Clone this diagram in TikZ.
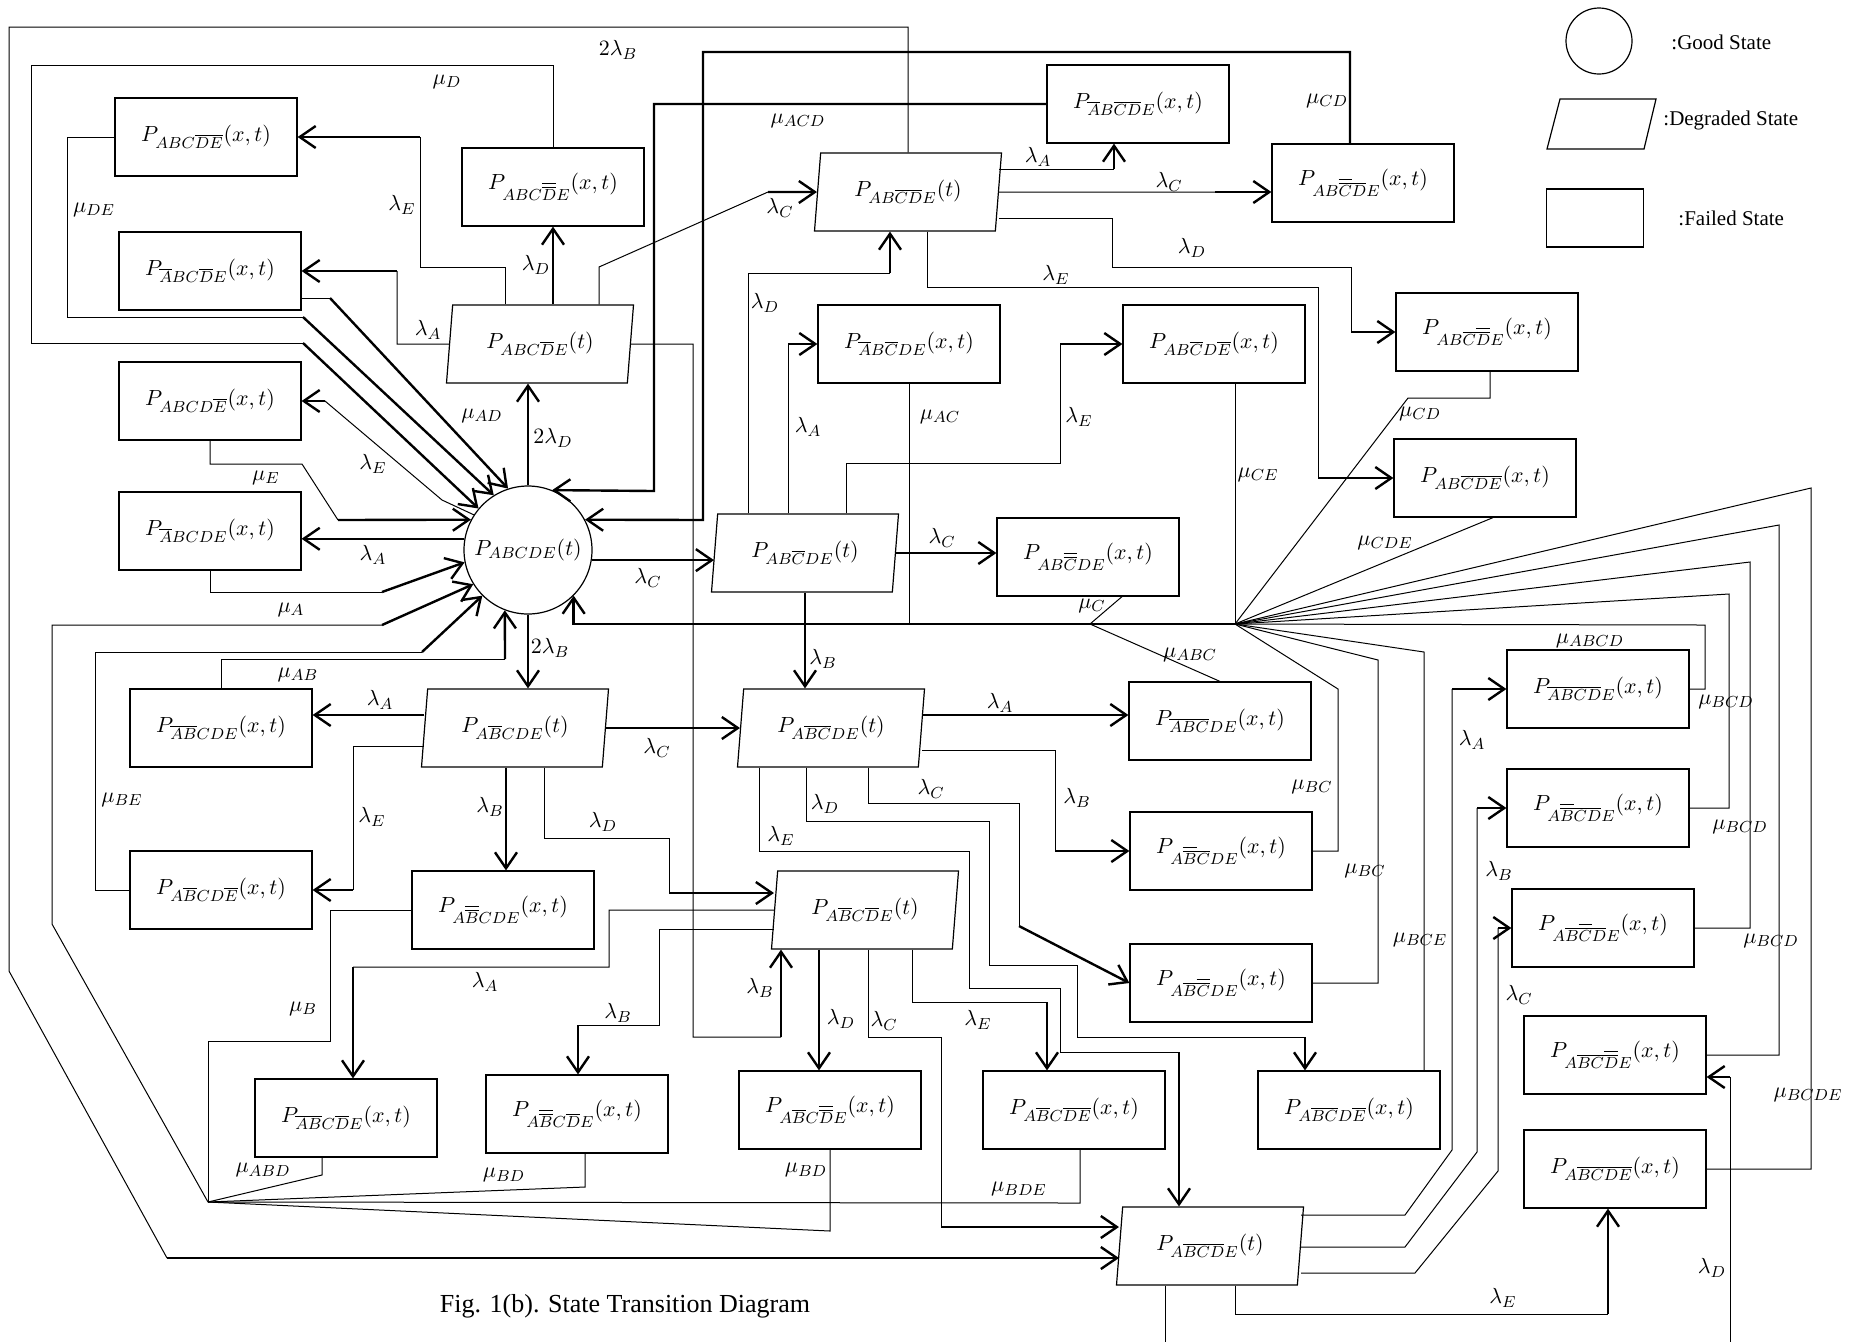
\documentclass[tikz,border=0pt]{standalone}
\usepackage{fontspec}
\setmainfont{Liberation Serif}
\usetikzlibrary{shapes.geometric,arrows.meta}
\newcommand{\fb}[1]{\overline{#1}}
\newcommand{\fbb}[1]{\overline{\overline{#1}}}
\tikzset{
  fail/.style={draw, rectangle, line width=0.6pt, minimum width=91pt, minimum height=39pt, inner sep=0pt},
  degr/.style={draw, trapezium, trapezium left angle=75.5, trapezium right angle=104.5, trapezium stretches body, line width=0.6pt, minimum width=93.5pt, minimum height=39pt, inner sep=0pt},
  ln/.style={line width=0.5pt},
  arr/.style={->, line width=1.2pt}
}
\begin{document}
\begin{tikzpicture}[x=0.5pt, y=-0.5pt, >={Straight Barb[length=8pt,width=11pt]}, font=\fontsize{11}{13}\selectfont]
\path[use as bounding box, fill=white] (0,0) rectangle (1863,1341);
\clip (0,0) rectangle (1863,1341);

\node[circle, draw, line width=0.6pt, minimum size=64pt, inner sep=0pt] (g) at (528,550) {$P_{ABCDE}(t)$};

\begin{scope}[every node/.style={degr}]
  \node (dD) at (540,344) {$P_{ABC\fb{D}E}(t)$};
  \node (dCD) at (908,192) {$P_{AB\fb{C}\fb{D}E}(t)$};
  \node (dC) at (805,553) {$P_{AB\fb{C}DE}(t)$};
  \node (dB) at (515,728) {$P_{A\fb{B}CDE}(t)$};
  \node (dBC) at (831,728) {$P_{A\fb{B}\fb{C}DE}(t)$};
  \node (dBD) at (865,910) {$P_{A\fb{B}C\fb{D}E}(t)$};
  \node (dBCD) at (1210,1246) {$P_{A\fb{B}\fb{C}\fb{D}E}(t)$};
\end{scope}

\begin{scope}[every node/.style={fail}]
  \node (fDE) at (206,137) {$P_{ABC\fb{D}\fb{E}}(x,t)$};
  \node (fAD) at (210,271) {$P_{\fb{A}BC\fb{D}E}(x,t)$};
  \node (fE) at (210,401) {$P_{ABCD\fb{E}}(x,t)$};
  \node (fA) at (210,531) {$P_{\fb{A}BCDE}(x,t)$};
  \node (fAB) at (221,728) {$P_{\fb{A}\fb{B}CDE}(x,t)$};
  \node (fBE) at (221,890) {$P_{A\fb{B}CD\fb{E}}(x,t)$};
  \node (fBB) at (503,910) {$P_{A\fbb{B}CDE}(x,t)$};
  \node (fABD) at (346,1118) {$P_{\fb{A}\fb{B}C\fb{D}E}(x,t)$};
  \node (fBBD) at (577,1114) {$P_{A\fbb{B}C\fb{D}E}(x,t)$};
  \node (fBDD) at (830,1110) {$P_{A\fb{B}C\fbb{D}E}(x,t)$};
  \node (fBDE) at (1074,1110) {$P_{A\fb{B}C\fb{D}\fb{E}}(x,t)$};
  \node (fBCE) at (1349,1110) {$P_{A\fb{B}\fb{C}D\fb{E}}(x,t)$};
  \node (fBCC) at (1221,983) {$P_{A\fb{B}\fbb{C}DE}(x,t)$};
  \node (fBBC) at (1221,851) {$P_{A\fbb{B}\fb{C}DE}(x,t)$};
  \node (fABC) at (1220,721) {$P_{\fb{A}\fb{B}\fb{C}DE}(x,t)$};
  \node (fCC) at (1088,557) {$P_{AB\fbb{C}DE}(x,t)$};
  \node (fAC) at (909,344) {$P_{\fb{A}B\fb{C}DE}(x,t)$};
  \node (fCE) at (1214,344) {$P_{AB\fb{C}D\fb{E}}(x,t)$};
  \node (fDD) at (553,187) {$P_{ABC\fbb{D}E}(x,t)$};
  \node (fACD) at (1138,104) {$P_{\fb{A}B\fb{C}\fb{D}E}(x,t)$};
  \node (fCCD) at (1363,183) {$P_{AB\fbb{C}\fb{D}E}(x,t)$};
  \node (fCDD) at (1487,332) {$P_{AB\fb{C}\fbb{D}E}(x,t)$};
  \node (fCDE) at (1485,478) {$P_{AB\fb{C}\fb{D}\fb{E}}(x,t)$};
  \node (fABCD) at (1598,689) {$P_{\fb{A}\fb{B}\fb{C}\fb{D}E}(x,t)$};
  \node (fBBCD) at (1598,808) {$P_{A\fbb{B}\fb{C}\fb{D}E}(x,t)$};
  \node (fBCCD) at (1603,928) {$P_{A\fb{B}\fbb{C}\fb{D}E}(x,t)$};
  \node (fBCDD) at (1615,1055) {$P_{A\fb{B}\fb{C}\fbb{D}E}(x,t)$};
  \node (fBCDE) at (1615,1169) {$P_{A\fb{B}\fb{C}\fb{D}\fb{E}}(x,t)$};
\end{scope}

\node[circle, draw, line width=0.6pt, minimum size=33pt, inner sep=0pt] (lgood) at (1599,41) {};
\draw[line width=0.6pt] (1547,149) -- (1560,99) -- (1656,99) -- (1644,149) -- cycle;
\node[fail, minimum width=48.5pt, minimum height=29pt] (lfail) at (1595,218) {};
\begin{scope}[every node/.style={anchor=west, inner sep=0pt, font=\fontsize{10.5}{12}\selectfont}]
  \node (tgood) at (1671,42) {:Good State};
  \node (tdegr) at (1663,120) {:Degraded State};
  \node (tfail) at (1678,218) {:Failed State};
\end{scope}
\node[font=\fontsize{13}{15}\selectfont] (cap) at (625,1306) {Fig. 1(b). State Transition Diagram};

\coordinate (hubL) at (208,1202);
\coordinate (hubR) at (1235,624);

\draw[arr] (g.170) -- (g.170 -| fA.east);
\draw[ln] (g.147) -- (442,500) -- (325,401);
\draw[arr] (325,401) -- (fE.east);
\draw[arr] (g.north) -- (g.north |- dD.south);
\draw[arr] (g.351) -- (g.351 -| dC.west);
\draw[arr] (g.south) -- (g.south |- dB.north);

\draw[ln] (fE.south) -- (210,464) -- (302,464) -- (338,520);
\draw[arr] (338,520) -- (g.152);
\draw[ln] (fDD.north) |- (31,65) |- (303,343);
\draw[arr] (303,343) -- (g.140);
\draw[ln] (fDE.west) -| (67,317) -- (303,317);
\draw[arr] (303,317) -- (g.122);
\draw[ln] (fAD.east |- 0,298) -- (330,298);
\draw[arr] (330,298) -- (g.108);
\draw[ln] (fA.south) |- (382,592);
\draw[arr] (382,592) -- (g.191);
\draw[ln] (hubL) -- (52,924) -- (52,625) -- (382,625);
\draw[arr] (382,625) -- (g.212);
\draw[ln] (fAB.north) |- (505,659);
\draw[arr] (505,659) -- (g.249);
\draw[ln] (fBE.west) -| (95,652) -- (422,652);
\draw[arr] (422,652) -- (g.225);

\draw[ln] (fBB.west) -| (330,1041) -| (hubL);
\draw[ln] (fABD.south -| 322,0) -- (322,1175) -- (hubL);
\draw[ln] (fBBD.south -| 585,0) -- (585,1187) -- (hubL);
\draw[ln] (fBDD.south) -- (830,1231) -- (hubL);
\draw[ln] (fBDE.south -| 1080,0) -- (1080,1203) -- (hubL);

\draw[arr] (hubR) -| (g.315);
\draw[ln] (fAC.south) -- (fAC.south |- hubR);
\draw[ln] (fCC.south -| 1122,0) -- (1090,624) -- (fABC.north);
\draw[ln] (fCE.south -| hubR) -- (hubR);
\draw[ln] (fCDD.south -| 1490,0) |- (1408,398) -- (hubR);
\draw[ln] (fCDE.south -| 1493,0) -- (hubR);
\draw[ln] (hubR) -- (1705,625) |- (fABCD.east);
\draw[ln] (hubR) -- (1729,594) |- (fBBCD.east);
\draw[ln] (hubR) -- (1750,562) |- (fBCCD.east);
\draw[ln] (hubR) -- (1779,525) |- (fBCDD.east);
\draw[ln] (hubR) -- (1811,488) |- (fBCDE.east);
\draw[ln] (hubR) -- (1424,652) -- (fBCE.north -| 1424,0);
\draw[ln] (hubR) -- (1378,660) |- (fBCC.east);
\draw[ln] (hubR) -- (1338,689) |- (fBBC.east);
\draw[arr] (fACD.west) -| (654,491) -- (g.68);
\draw[arr] (fCCD.north -| 1350,0) |- (703,52) -- (703,520) -- (g.28);

\draw[ln] (dD.west) -- (397,344) -- (397,271);
\draw[arr] (397,271) -- (fAD.east);
\draw[ln] (dD.north -| 505,0) |- (420,267) -- (420,137);
\draw[arr] (420,137) -- (fDE.east);
\draw[arr] (dD.north -| fDD.south) -- (fDD.south);
\draw[ln] (dD.north -| 599,0) -- (599,267) -- (768,192);
\draw[arr] (768,192) -- (dCD.west);
\draw[ln] (dD.east) -- (693,344) -- (693,1037) -- (781,1037);
\draw[arr] (781,1037) -- (dBD.south -| 781,0);

\draw[ln] (dCD.north) -- (dCD.north |- 0,27) -- (9,27) -- (9,971) -- (167,1258);
\draw[arr] (167,1258) -- (dBCD.west |- 0,1258);
\draw[ln] (dCD.east |- 0,169) -- (1114,169);
\draw[arr] (1114,169) -- (fACD.south -| 1114,0);
\draw[ln] (dCD.east) -- (1215,192);
\draw[arr] (1215,192) -- (fCCD.west |- 0,192);
\draw[ln] (dCD.east |- 0,218) -| (1112,267) -| (1351,332);
\draw[arr] (1351,332) -- (fCDD.west);
\draw[ln] (dCD.south -| 927,0) |- (1318,287) -- (1318,478);
\draw[arr] (1318,478) -- (fCDE.west);

\draw[ln] (dC.north -| 748,0) |- (890,273);
\draw[arr] (890,273) -- (dCD.south -| 890,0);
\draw[ln] (dC.north -| 788,0) -- (788,344);
\draw[arr] (788,344) -- (fAC.west);
\draw[ln] (dC.north -| 846,0) |- (1060,463) -- (1060,344);
\draw[arr] (1060,344) -- (fCE.west);
\draw[arr] (dC.east) -- (dC.east -| fCC.west);
\draw[arr] (dC.south) -- (dC.south |- dBC.north);

\draw[arr] (dB.west |- 0,715) -- (fAB.east |- 0,715);
\draw[ln] (dB.west |- 0,746) -| (353,890);
\draw[arr] (353,890) -- (fBE.east);
\draw[arr] (dB.south -| 506,0) -- (fBB.north -| 506,0);
\draw[arr] (dB.east) -- (dB.east -| dBC.west);
\draw[ln] (dB.south -| 544,0) |- (669,838) -- (669,893);
\draw[arr] (669,893) -- (dBD.west |- 0,893);

\draw[arr] (dBC.east |- 0,715) -- (fABC.west |- 0,715);
\draw[ln] (dBC.east |- 0,750) -| (1055,851);
\draw[arr] (1055,851) -- (fBBC.west);
\draw[ln] (dBC.south -| 868,0) |- (1019,803) -- (1019,926);
\draw[arr] (1019,926) -- (fBCC.west);
\draw[ln] (dBC.south -| 806,0) |- (989,821) |- (1077,965) |- (1305,1037);
\draw[arr] (1305,1037) -- (fBCE.north -| 1305,0);
\draw[ln] (dBC.south -| 759,0) |- (969,851) |- (1060,988) |- (1179,1052);
\draw[arr] (1179,1052) -- (dBCD.north -| 1179,0);

\draw[ln] (dBD.west) -- (609,910) |- (353,967);
\draw[arr] (353,967) -- (fABD.north -| 353,0);
\draw[ln] (dBD.west |- 0,929) -| (659,1025) -- (578,1025);
\draw[arr] (578,1025) -- (fBBD.north -| 578,0);
\draw[arr] (dBD.south -| 819,0) -- (fBDD.north -| 819,0);
\draw[ln] (dBD.south -| 868,0) |- (941,1037) -- (941,1227);
\draw[arr] (941,1227) -- (dBCD.west |- 0,1227);
\draw[ln] (dBD.south -| 912,0) |- (1047,1002);
\draw[arr] (1047,1002) -- (fBDE.north -| 1047,0);

\draw[ln] (dBCD.east |- 0,1215) -- (1405,1215) -- (1452,1150) -- (1452,689);
\draw[arr] (1452,689) -- (fABCD.west);
\draw[ln] (dBCD.east |- 0,1247) -- (1405,1247) -- (1477,1152) -- (1477,808);
\draw[arr] (1477,808) -- (fBBCD.west);
\draw[ln] (dBCD.east |- 0,1273) -- (1415,1273) -- (1498,1171) -- (1498,928);
\draw[arr] (1498,928) -- (fBCCD.west);
\draw[ln] (dBCD.south -| 1165,0) -- (1165,1360) -| (1730,1077);
\draw[arr] (1730,1077) -- (fBCDD.east |- 0,1077);
\draw[ln] (dBCD.south -| 1235,0) |- (1608,1314);
\draw[arr] (1608,1314) -- (fBCDE.south -| 1608,0);

\begin{scope}[every node/.style={inner sep=0pt}]
  \node (e1) at (618,50) {$2\lambda_B$};
  \node (e2) at (447,82) {$\mu_D$};
  \node (e3) at (94,210) {$\mu_{DE}$};
  \node (e4) at (402,205) {$\lambda_E$};
  \node (e5) at (428,330) {$\lambda_A$};
  \node (e6) at (536,265) {$\lambda_D$};
  \node (e7) at (780,208) {$\lambda_C$};
  \node (e8) at (798,121) {$\mu_{ACD}$};
  \node (e9) at (765,303) {$\lambda_D$};
  \node (e10) at (482,416) {$\mu_{AD}$};
  \node (e11) at (553,438) {$2\lambda_D$};
  \node (e12) at (808,427) {$\lambda_A$};
  \node (e13) at (1038,157) {$\lambda_A$};
  \node (e14) at (1169,182) {$\lambda_C$};
  \node (e15) at (1327,101) {$\mu_{CD}$};
  \node (e16) at (1192,248) {$\lambda_D$};
  \node (e17) at (1056,275) {$\lambda_E$};
  \node (e18) at (940,417) {$\mu_{AC}$};
  \node (e19) at (1079,417) {$\lambda_E$};
  \node (e20) at (1420,414) {$\mu_{CD}$};
  \node (e21) at (266,478) {$\mu_E$};
  \node (e22) at (373,464) {$\lambda_E$};
  \node (e23) at (373,555) {$\lambda_A$};
  \node (e24) at (291,610) {$\mu_A$};
  \node (e25) at (298,675) {$\mu_{AB}$};
  \node (e26) at (380,700) {$\lambda_A$};
  \node (e27) at (122,800) {$\mu_{BE}$};
  \node (e28) at (372,817) {$\lambda_E$};
  \node (e29) at (648,578) {$\lambda_C$};
  \node (e30) at (550,648) {$2\lambda_B$};
  \node (e31) at (823,659) {$\lambda_B$};
  \node (e32) at (657,748) {$\lambda_C$};
  \node (e33) at (490,807) {$\lambda_B$};
  \node (e34) at (603,822) {$\lambda_D$};
  \node (e35) at (825,804) {$\lambda_D$};
  \node (e36) at (781,836) {$\lambda_E$};
  \node (e37) at (931,789) {$\lambda_C$};
  \node (e38) at (942,538) {$\lambda_C$};
  \node (e39) at (1092,606) {$\mu_C$};
  \node (e40) at (1190,655) {$\mu_{ABC}$};
  \node (e41) at (1258,475) {$\mu_{CE}$};
  \node (e42) at (1385,543) {$\mu_{CDE}$};
  \node (e43) at (1000,703) {$\lambda_A$};
  \node (e44) at (1077,798) {$\lambda_B$};
  \node (e45) at (1312,787) {$\mu_{BC}$};
  \node (e46) at (1365,871) {$\mu_{BC}$};
  \node (e47) at (1590,641) {$\mu_{ABCD}$};
  \node (e48) at (1726,702) {$\mu_{BCD}$};
  \node (e49) at (1740,827) {$\mu_{BCD}$};
  \node (e50) at (1472,740) {$\lambda_A$};
  \node (e51) at (1499,871) {$\lambda_B$};
  \node (e52) at (303,1009) {$\mu_B$};
  \node (e53) at (263,1170) {$\mu_{ABD}$};
  \node (e54) at (485,982) {$\lambda_A$};
  \node (e55) at (618,1013) {$\lambda_B$};
  \node (e56) at (760,988) {$\lambda_B$};
  \node (e57) at (841,1019) {$\lambda_D$};
  \node (e58) at (884,1021) {$\lambda_C$};
  \node (e59) at (504,1175) {$\mu_{BD}$};
  \node (e60) at (806,1170) {$\mu_{BD}$};
  \node (e61) at (978,1020) {$\lambda_E$};
  \node (e62) at (1019,1189) {$\mu_{BDE}$};
  \node (e63) at (1420,940) {$\mu_{BCE}$};
  \node (e64) at (1771,941) {$\mu_{BCD}$};
  \node (e65) at (1519,995) {$\lambda_C$};
  \node (e66) at (1808,1095) {$\mu_{BCDE}$};
  \node (e67) at (1712,1268) {$\lambda_D$};
  \node (e68) at (1503,1298) {$\lambda_E$};
\end{scope}
\end{tikzpicture}
\end{document}
